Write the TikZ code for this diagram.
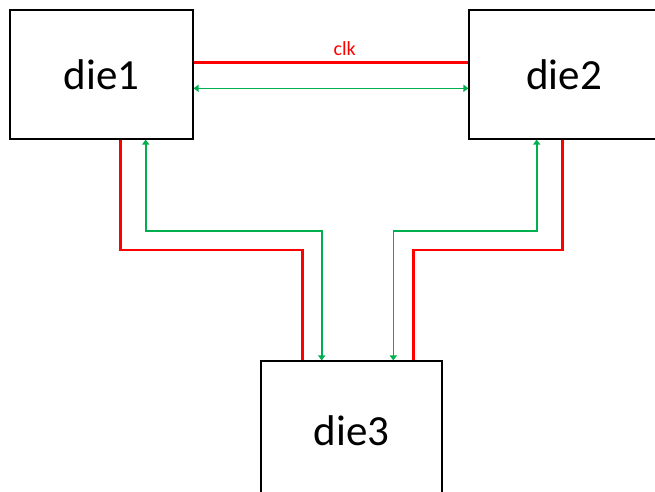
\documentclass[tikz,border=0pt]{standalone}
\usepackage{fontspec}
\setmainfont{Carlito}
\usetikzlibrary{arrows.meta}
\definecolor{sigred}{RGB}{255,0,0}
\definecolor{siggreen}{RGB}{0,176,80}
\begin{document}
\begin{tikzpicture}[x=1pt,y=-1pt,
  diebox/.style={draw=black,line width=1.1pt,fill=white,inner sep=0pt,
    font=\fontsize{43}{50}\selectfont},
  clkline/.style={draw=sigred,line width=2.6pt},
  dataline/.style={draw=siggreen,line width=1.6pt,
    arrows={Triangle[length=5pt,width=7pt]-Triangle[length=5pt,width=7pt]}}]
\clip (0,0) rectangle (655,491);
\fill[white] (0,0) rectangle (655,491);

% the three dies
\node[diebox,minimum width=183pt,minimum height=129pt] (die1) at (101.5,74.5) {die1};
\node[diebox,minimum width=190pt,minimum height=129pt] (die2) at (564,74.5) {die2};
\node[diebox,minimum width=181pt,minimum height=140pt] (die3) at (351.5,431) {die3};

% routing points
\coordinate (h1) at (0,62.3);
\coordinate (h2) at (0,88.3);
\coordinate (a1) at (120.7,250);
\coordinate (a2) at (302.3,250);
\coordinate (b1) at (145.7,231);
\coordinate (b2) at (321.7,231);
\coordinate (c1) at (393.3,231);
\coordinate (c2) at (536.7,231);
\coordinate (d1) at (413.3,250);
\coordinate (d2) at (562.3,250);

% die1 <-> die2
\draw[clkline] (die1.east |- h1) -- node[pos=0.55,above=2pt,text=sigred,font=\fontsize{20}{22}\selectfont]{clk} (die2.west |- h1);
\draw[dataline] (die1.east |- h2) -- (die2.west |- h2);

% die1 <-> die3
\draw[clkline] (die1.south -| a1) -- (a1) -- (a2) -- (die3.north -| a2);
\draw[dataline] (die1.south -| b1) -- (b1) -- (b2) -- (die3.north -| b2);

% die2 <-> die3
\draw[dataline] (die3.north -| c1) -- (c1) -- (c2) -- (die2.south -| c2);
\draw[clkline] (die3.north -| d1) -- (d1) -- (d2) -- (die2.south -| d2);

% box outlines on top of line ends
\foreach \n in {die1,die2,die3} \draw[line width=1.1pt] (\n.south west) rectangle (\n.north east);
\end{tikzpicture}
\end{document}
